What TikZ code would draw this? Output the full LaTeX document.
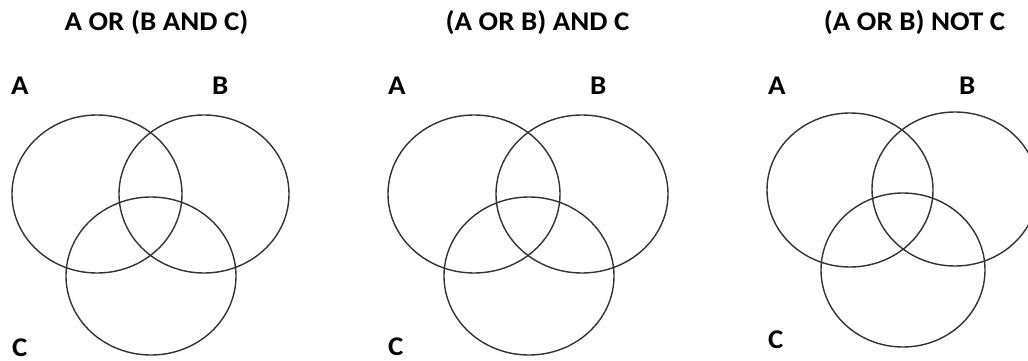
\documentclass[tikz,border=0pt]{standalone}
\usepackage{fontspec}
\setmainfont{Carlito}
\usetikzlibrary{shapes.geometric}
\newcommand{\widetext}[1]{\scalebox{1.07}[1]{#1}}
\begin{document}
\begin{tikzpicture}[x=1pt,y=-1pt,
  ring/.style={draw=black!80, line width=1.4pt, ellipse, inner sep=0pt, minimum width=#1},
  ring/.default=170pt,
  headline/.style={font=\fontsize{27}{30}\selectfont\bfseries, inner sep=0pt, anchor=base},
  setlabel/.style={font=\fontsize{27}{30}\selectfont\bfseries, inner sep=0pt, anchor=base west}]
\useasboundingbox (0,0) rectangle (1028,361);
\clip (0,0) rectangle (1028,361);
% panel 1
\node[headline] (t1) at (156.5,31) {\widetext{A OR (B AND C)}};
\node[ring, minimum height=158pt] (a1) at (97,194) {};
\node[ring, minimum height=158pt] (b1) at (204,194) {};
\node[ring, minimum height=158pt] (c1) at (151,276) {};
\node[setlabel] (la1) at (11,95) {\widetext{A}};
\node[setlabel] (lb1) at (212,95) {\widetext{B}};
\node[setlabel] (lc1) at (12,356) {\widetext{C}};
% panel 2
\node[headline] (t2) at (537.5,31) {\widetext{(A OR B) AND C}};
\node[ring=172pt, minimum height=158pt] (a2) at (474,194) {};
\node[ring=172pt, minimum height=158pt] (b2) at (582,194) {};
\node[ring, minimum height=158pt] (c2) at (529,276) {};
\node[setlabel] (la2) at (388,95) {\widetext{A}};
\node[setlabel] (lb2) at (590,95) {\widetext{B}};
\node[setlabel] (lc2) at (388,355) {\widetext{C}};
% panel 3
\node[headline] (t3) at (914.5,31) {\widetext{(A OR B) NOT C}};
\node[ring=166pt, minimum height=154pt] (a3) at (850,190) {};
\node[ring=166pt, minimum height=154pt] (b3) at (955,189) {};
\node[ring=164pt, minimum height=154pt] (c3) at (903,270) {};
\node[setlabel] (la3) at (768,95) {\widetext{A}};
\node[setlabel] (lb3) at (959,95) {\widetext{B}};
\node[setlabel] (lc3) at (768,348) {\widetext{C}};
\end{tikzpicture}
\end{document}
